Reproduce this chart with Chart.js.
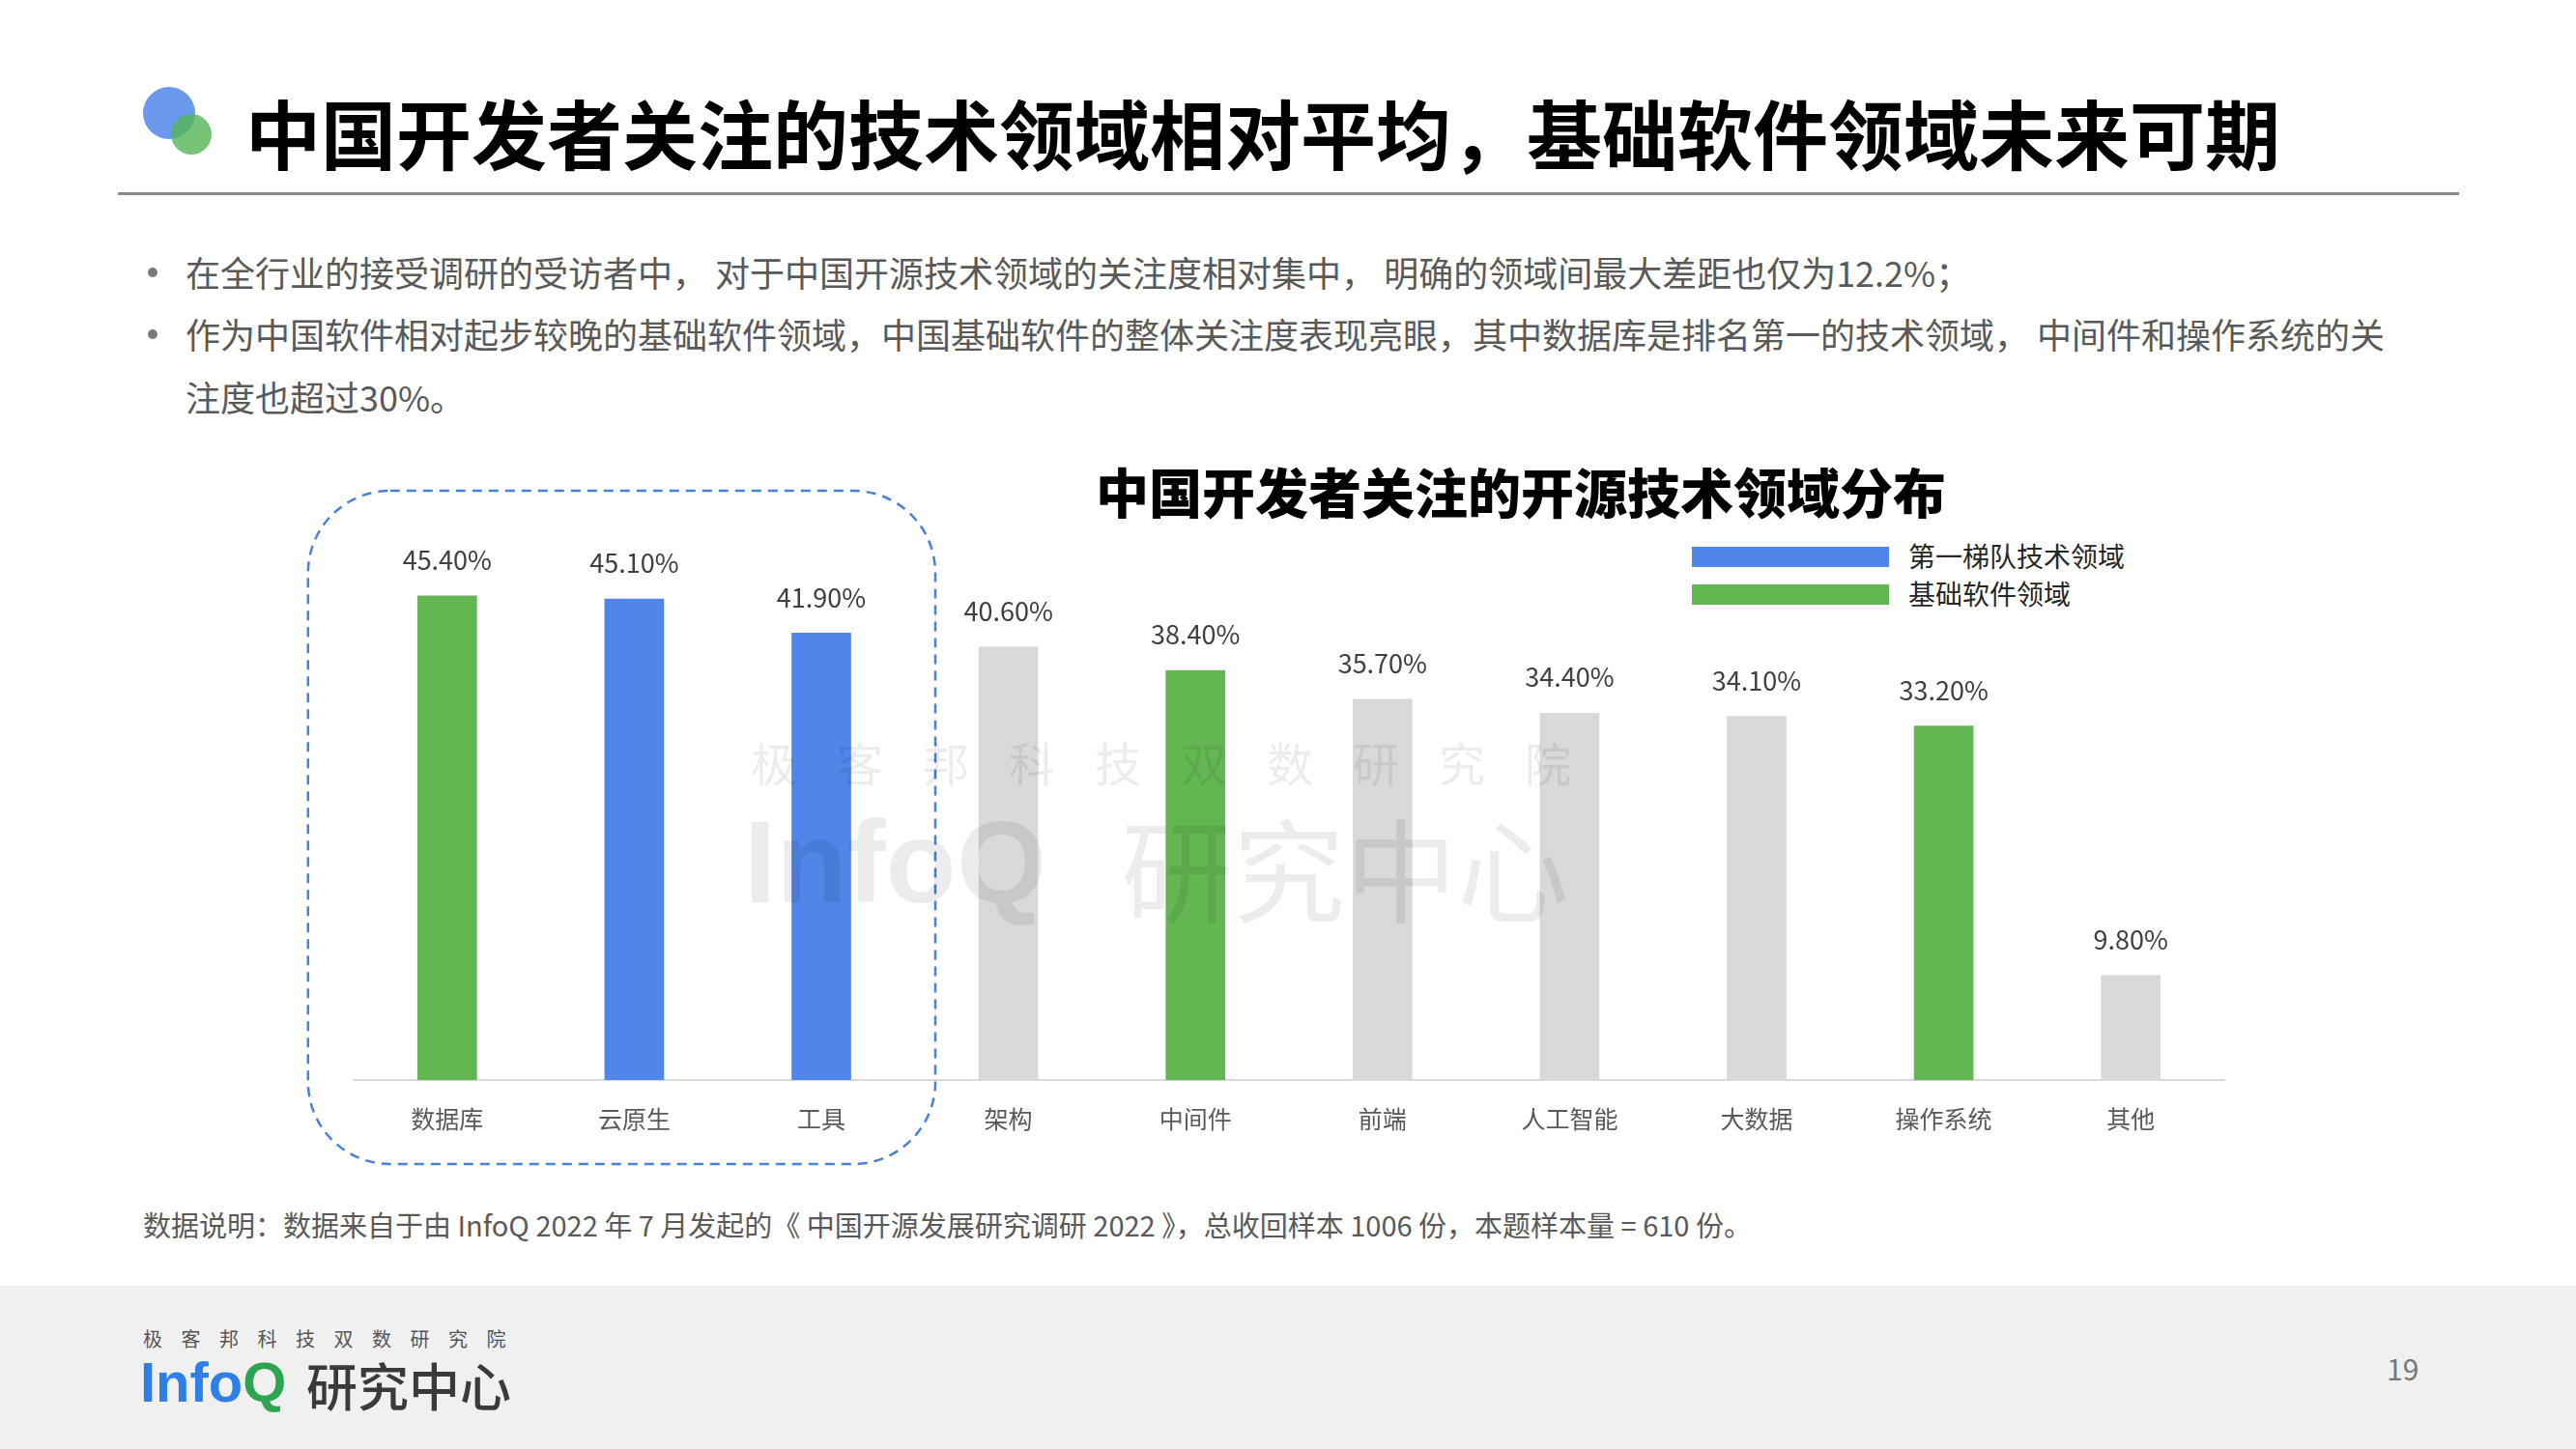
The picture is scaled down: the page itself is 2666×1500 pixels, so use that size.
<!DOCTYPE html>
<html lang="zh">
<head>
<meta charset="UTF-8" />
<title>中国开发者关注的开源技术领域分布</title>
<script src="https://cdn.jsdelivr.net/npm/chart.js"></script>
<style>
  body { margin: 0; background: #fff; font-family: "Noto Sans CJK SC", "Noto Sans", sans-serif; }
  .page { position: relative; width: 2666px; height: 1500px; overflow: hidden; background: #fff; }
  .abs { position: absolute; white-space: nowrap; }
  .dot { position: absolute; border-radius: 50%; }
  .title { left: 254px; top: 91px; font-size: 78px; line-height: 90px; font-weight: 700; color: #000; }
  .rule { position: absolute; left: 122px; top: 199px; width: 2423px; height: 3px; background: #8a8a8a; }
  .txt { font-size: 36px; line-height: 64px; color: #595959; }
  .ponto { position: absolute; width: 10px; height: 10px; border-radius: 50%; background: #7a7a7a; }
  .ctitle { left: 1134px; top: 472px; font-size: 55px; line-height: 70px; font-weight: 900; color: #000; }
  .lg-box { position: absolute; width: 204px; height: 21px; }
  .lg-txt { font-size: 28px; line-height: 40px; color: #262626; }
  .note { left: 148px; top: 1248px; font-size: 29px; line-height: 38px; color: #595959; }
  .footer { position: absolute; left: 0; top: 1331px; width: 2666px; height: 169px; background: #f0f0f0; }
  .wm { color: rgba(0, 0, 0, 0.075); pointer-events: none; }
  #wrap { position: absolute; left: 290px; top: 500px; width: 2060px; height: 720px; }
</style>
</head>
<body>
<div class="page">
  <div class="dot" style="left:148px;top:90px;width:54px;height:54px;background:rgba(80,135,235,0.85);"></div>
  <div class="dot" style="left:177px;top:118px;width:42px;height:42px;background:rgba(85,180,85,0.8);"></div>
  <div class="abs title">中国开发者关注的技术领域相对平均，基础软件领域未来可期</div>
  <div class="rule"></div>

  <div class="ponto" style="left:153px;top:277px;"></div>
  <div class="abs txt" style="left:192px;top:249px;">在全行业的接受调研的受访者中，&nbsp;对于中国开源技术领域的关注度相对集中，&nbsp;明确的领域间最大差距也仅为12.2%；</div>
  <div class="ponto" style="left:153px;top:341px;"></div>
  <div class="abs txt" style="left:192px;top:313px;">作为中国软件相对起步较晚的基础软件领域，中国基础软件的整体关注度表现亮眼，其中数据库是排名第一的技术领域，&nbsp;中间件和操作系统的关</div>
  <div class="abs txt" style="left:192px;top:378px;">注度也超过30%。</div>

  <div class="abs ctitle">中国开发者关注的开源技术领域分布</div>
  <div class="lg-box" style="left:1751px;top:566px;background:#4f86e8;"></div>
  <div class="abs lg-txt" style="left:1975px;top:555px;">第一梯队技术领域</div>
  <div class="lg-box" style="left:1751px;top:605px;background:#63b752;"></div>
  <div class="abs lg-txt" style="left:1975px;top:594px;">基础软件领域</div>

  <div id="wrap"><canvas id="grafico"></canvas></div>

  <div class="abs wm" style="left:777px;top:758px;font-size:48px;line-height:60px;letter-spacing:41px;">极客邦科技双数研究院</div>
  <div class="abs wm" style="left:770px;top:822px;font-size:120px;line-height:140px;font-weight:700;font-family:'Liberation Sans',sans-serif;">InfoQ</div>
  <div class="abs wm" style="left:1160px;top:830px;font-size:116px;line-height:130px;">研究中心</div>

  <div class="abs note">数据说明：数据来自于由 InfoQ 2022 年 7 月发起的《 中国开源发展研究调研 2022 》，总收回样本 1006 份，本题样本量 = 610 份。</div>

  <div class="footer"></div>
  <div class="abs" style="left:148px;top:1373px;font-size:20px;line-height:26px;letter-spacing:19.5px;color:#555;">极客邦科技双数研究院</div>
  <div class="abs" style="left:145px;top:1398px;font-size:58px;line-height:66px;font-weight:700;font-family:'Liberation Sans',sans-serif;color:#2f7fe8;">Info<span style="color:#2da44e;">Q</span></div>
  <div class="abs" style="left:317px;top:1401px;font-size:53px;line-height:64px;font-weight:500;color:#3a3a3a;">研究中心</div>
  <div class="abs" style="left:2470px;top:1398px;font-size:30px;line-height:36px;color:#777;">19</div>
</div>

<script>
  const categorias = ['数据库', '云原生', '工具', '架构', '中间件', '前端', '人工智能', '大数据', '操作系统', '其他'];
  const valores = [45.4, 45.1, 41.9, 40.6, 38.4, 35.7, 34.4, 34.1, 33.2, 9.8];
  const grupos = ['base', 'tier1', 'tier1', 'other', 'base', 'other', 'other', 'other', 'base', 'other'];

  const cores = { tier1: '#4f86e8', base: '#63b752', other: '#d9d9d9' };

  Chart.defaults.font.family = '"Noto Sans CJK SC", "Noto Sans", sans-serif';

  // rótulos de valor acima das barras
  const rotulos = {
    id: 'rotulos',
    afterDatasetsDraw(chart) {
      const ctx = chart.ctx;
      const meta = chart.getDatasetMeta(0);
      ctx.save();
      ctx.font = '27px "Noto Sans CJK SC", "Noto Sans", sans-serif';
      ctx.fillStyle = '#404040';
      ctx.textAlign = 'center';
      ctx.textBaseline = 'middle';
      meta.data.forEach((bar, i) => {
        ctx.fillText(valores[i].toFixed(2) + '%', bar.x, bar.y - 37);
      });
      ctx.restore();
    }
  };

  // caixa tracejada em volta dos três primeiros
  const caixa = {
    id: 'caixa',
    afterDraw(chart) {
      const { ctx, scales, chartArea } = chart;
      const x0 = scales.x.getPixelForValue(0) - 144;
      const x1 = scales.x.getPixelForValue(2) + 118;
      const y0 = scales.y.getPixelForValue(50) - 58;
      const y1 = chartArea.bottom + 87;
      ctx.save();
      ctx.strokeStyle = '#4a80d8';
      ctx.lineWidth = 2.5;
      ctx.setLineDash([10, 7]);
      ctx.beginPath();
      ctx.roundRect(x0, y0, x1 - x0, y1 - y0, 85);
      ctx.stroke();
      ctx.restore();
    }
  };

  new Chart(document.getElementById('grafico'), {
    type: 'bar',
    data: {
      labels: categorias,
      datasets: [{
        data: valores,
        backgroundColor: grupos.map(g => cores[g]),
        barThickness: 61
      }]
    },
    options: {
      responsive: true,
      maintainAspectRatio: false,
      animation: false,
      layout: { padding: { left: 76, right: 48, top: 66, bottom: 22 } },
      plugins: { legend: { display: false }, tooltip: { enabled: false } },
      scales: {
        x: {
          grid: { display: false, drawTicks: false },
          border: { display: true, color: '#d9d9d9', width: 2 },
          ticks: { color: '#595959', padding: 25, font: { size: 25 } }
        },
        y: {
          display: false,
          min: 0,
          max: 50
        }
      }
    },
    plugins: [rotulos, caixa]
  });
</script>
</body>
</html>
